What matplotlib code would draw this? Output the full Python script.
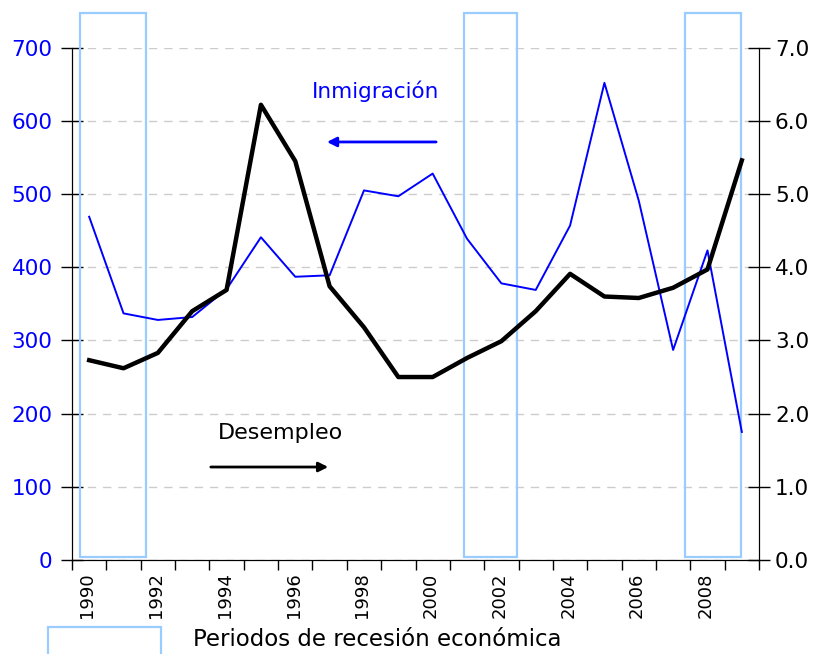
import matplotlib
matplotlib.use('Agg')
import matplotlib.pyplot as plt
from matplotlib.patches import Rectangle
import numpy as np

# datos
years = list(range(1990, 2010))
inmigracion = [469, 337, 328, 332, 370, 441, 387, 389, 505, 497,
               528, 439, 378, 369, 457, 652, 491, 287, 423, 175]
desempleo = [2.73, 2.62, 2.83, 3.40, 3.69, 6.22, 5.45, 3.74, 3.18, 2.50,
             2.50, 2.76, 2.99, 3.40, 3.91, 3.60, 3.58, 3.72, 3.97, 5.46]
# periodos de recesion (en posiciones de categoria)
recesion_inicio = [0.23, 11.41, 17.85]
recesion_fin = [2.15, 12.96, 19.47]

azul = '#0000ff'
celeste = '#99ccff'

plt.rcParams['font.family'] = ['DejaVu Sans']

fig = plt.figure(figsize=(8.16, 6.54), dpi=100)
ax = fig.add_axes([72/816, 94/654, 687/816, 512.3/654])
ax2 = ax.twinx()

x = np.arange(len(years)) + 0.5

# rectangulos de recesion
for a, b in zip(recesion_inicio, recesion_fin):
	r = Rectangle((a, 4.5), b - a, 743.5, fill=False, edgecolor=celeste,
				  linewidth=1.6, clip_on=False, zorder=1)
	ax.add_patch(r)

ax.plot(x, inmigracion, color=azul, linewidth=1.4, zorder=3)
ax2.plot(x, desempleo, color='black', linewidth=3.2, zorder=3)

ax.set_xlim(0, 20)
ax.set_ylim(0, 700)
ax2.set_ylim(0, 7)

# eje x de categorias
ax.set_xticks(np.arange(21))
ax.set_xticklabels([])
ax.tick_params(axis='x', which='major', length=7, direction='out', width=1)
ax.set_xticks(x[::2] - 0.05, minor=True)
ax.set_xticklabels([str(y) for y in years[::2]], minor=True, rotation=90,
				   fontsize=13)
ax.tick_params(axis='x', which='minor', length=0, pad=9)

ax.set_yticks(range(0, 701, 100))
ax.tick_params(axis='y', labelcolor=azul, labelsize=15.5, length=16,
			   direction='inout', width=1, pad=6)
ax2.set_yticks(np.arange(0, 7.1, 1.0))
ax2.set_yticklabels(['%.1f' % v for v in np.arange(0, 7.1, 1.0)])
ax2.tick_params(axis='y', labelsize=15.5, length=16, direction='inout', width=1)

ax.yaxis.grid(True, linestyle=(0, (6, 5)), color='#cccccc', linewidth=1)
ax.set_axisbelow(True)

for s in ['top']:
	ax.spines[s].set_visible(False)
	ax2.spines[s].set_visible(False)

# anotaciones
ax.text(0.4425, 0.9155, 'Inmigración', color=azul, fontsize=15.5,
		ha='center', va='center', transform=ax.transAxes)
ax.annotate('', xy=(0.367, 0.816), xytext=(0.534, 0.816), xycoords='axes fraction',
			arrowprops=dict(arrowstyle='-|>', color=azul, lw=2, mutation_scale=14))
ax.text(0.303, 0.248, 'Desempleo', color='black', fontsize=16,
		ha='center', va='center', transform=ax.transAxes)
ax.annotate('', xy=(0.377, 0.1815), xytext=(0.198, 0.1815), xycoords='axes fraction',
			arrowprops=dict(arrowstyle='-|>', color='black', lw=2, mutation_scale=14))

# leyenda
fig.patches.append(Rectangle((48/816, -0.02), 113/816, 0.0413 + 0.02, fill=False,
							 edgecolor=celeste, linewidth=1.6,
							 transform=fig.transFigure))
fig.text(193/816, 14/654, 'Periodos de recesión económica', fontsize=16.5,
		 ha='left', va='center')

fig.savefig('out.png', dpi=100)
